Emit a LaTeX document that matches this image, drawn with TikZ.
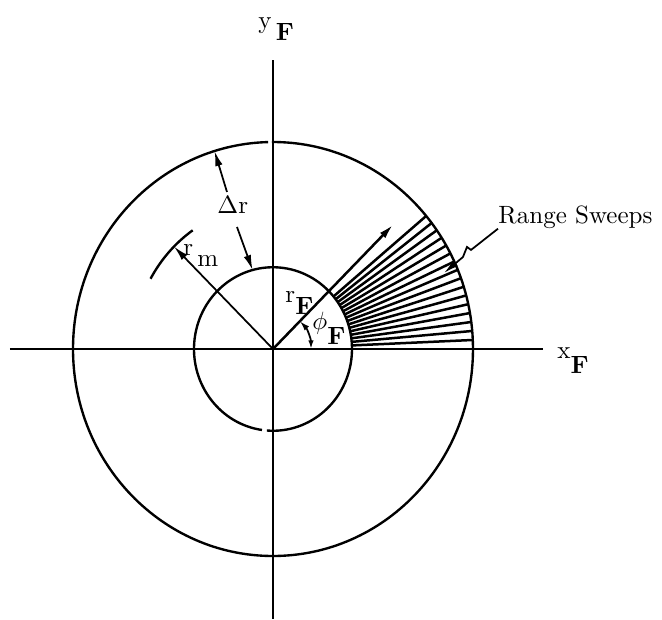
\documentclass[tikz,border=0pt]{standalone}
\usetikzlibrary{arrows.meta}
\newcommand{\lowsub}[2][-6pt]{\raisebox{#1}{#2}}
\begin{document}
\begin{tikzpicture}[x=0.4pt,y=0.414pt]
  % Define styles for lines, tips and labels
  \tikzstyle{axis} = [line width=0.7pt]
  \tikzstyle{ring} = [line width=0.95pt]
  \tikzstyle{sweep} = [line width=1pt]
  \tikzstyle{lbl} = [inner sep=0pt, anchor=base west]
  \tikzstyle{tip} = [-{Latex[length=6pt,width=3pt]}]
  \tikzstyle{smalltip} = [{Latex[length=3.5pt,width=2.2pt]}-{Latex[length=4pt,width=2.4pt]}]

  \useasboundingbox (-273,-260.9) rectangle (389,337.2);

  % Points
  \coordinate (O) at (0,0);
  \coordinate (xL) at (-263,0);
  \coordinate (xR) at (270,0);
  \coordinate (yT) at (0,279.2);
  \coordinate (yB) at (0,-260.9);
  \coordinate (rFend) at (45:170);
  \coordinate (rmend) at (135:140);
  \coordinate (drtail1) at (-46,151.7);
  \coordinate (drtip1) at (107:200);
  \coordinate (drtail2) at (-36,117.9);
  \coordinate (drtip2) at (105:79);
  \coordinate (rs2) at (198,95.7);
  \coordinate (rs3) at (194,98.6);
  \coordinate (rs4) at (190,88.9);
  \coordinate (rs5) at (171,73.4);

  % Draw the axes
  \draw[axis] (xL) -- (xR);
  \draw[axis] (yT) -- (yB);

  % Draw the two circles (small gaps as in the print)
  \draw[ring] (265.6:79) arc[start angle=265.6, end angle=622, radius=79];
  \draw[ring] (91.4:200) arc[start angle=91.4, end angle=450.3, radius=200];

  % Range sweeps
  \foreach \a in {0,2.5,...,40} {
    \draw[sweep] (\a:79) -- (\a:200);
  }
  \draw[sweep,tip] (O) -- (rFend);

  % Angle phi_F
  \draw[axis,smalltip] (0:38) arc[start angle=0, end angle=45, radius=38];

  % Mean radius
  \draw[axis,tip] (O) -- (rmend);
  \draw[ring] (125:140) arc[start angle=125, end angle=151, radius=140];

  % Delta r arrows
  \draw[axis,tip] (drtail1) -- (drtip1);
  \draw[axis,tip] (drtail2) -- (drtip2);

  % Labels
  \node (ylbl)[lbl] at (-15,310) {y\,\lowsub[-5pt]{\textbf{F}}};
  \node (xlbl)[lbl] at (284,-8.7) {x\lowsub{\textbf{F}}};
  \node (rslbl)[lbl] at (225,121.7) {Range Sweeps};
  \node (drlbl)[lbl] at (-56,131.4) {$\Delta$r};
  \node (rmlbl)[lbl] at (-90,90.8) {r\,\lowsub[-4.5pt]{m}};
  \node (rFlbl)[lbl] at (12,45.4) {r\lowsub[-5pt]{\textbf{F}}};
  \node (phlbl)[lbl] at (39,18.4) {$\phi$\lowsub{\textbf{F}}};

  % Leader for the range sweeps
  \draw[axis,tip] (rslbl.south west) -- (rs2) -- (rs3) -- (rs4) -- (rs5);
\end{tikzpicture}
\end{document}
